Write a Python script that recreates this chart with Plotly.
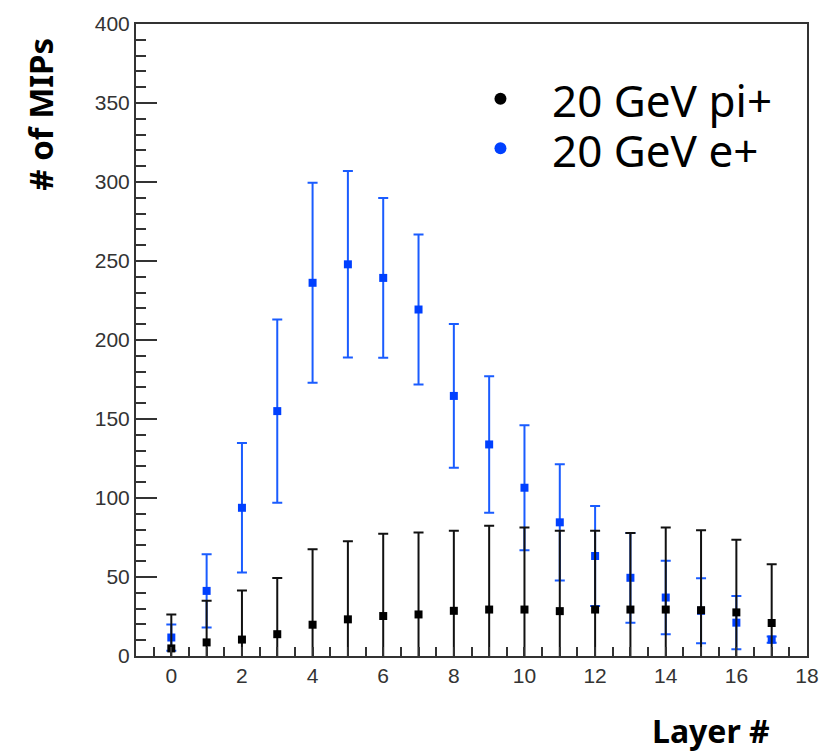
import plotly.graph_objects as go

layers = list(range(18))
pi_vals = [4.8, 8.6, 10.4, 13.8, 19.8, 23.2, 25.3, 26.3, 28.6, 29.4, 29.4, 28.4, 29.4, 29.4, 29.4, 29.0, 27.6, 20.9]
pi_errs = [21.5, 26.4, 31.0, 35.5, 47.7, 49.5, 52.0, 51.8, 50.6, 53.0, 51.9, 50.8, 49.8, 48.5, 51.9, 50.6, 46.0, 37.2]
e_vals = [11.7, 41.2, 93.8, 155.0, 236.2, 247.9, 239.3, 219.3, 164.6, 133.9, 106.5, 84.6, 63.3, 49.5, 37.0, 28.6, 21.1, 10.4]
e_errs = [8.3, 23.2, 41.0, 58.0, 63.3, 59.0, 50.6, 47.5, 45.5, 43.2, 39.5, 36.8, 31.7, 28.4, 23.3, 20.6, 16.9, 2.0]
series_names = ["20 GeV pi+", "20 GeV e+"]
series_colors = ["#000000", "#0040ff"]
err_colors = ["#111111", "#1a5cff"]

fig = go.Figure()
fig.add_trace(go.Scatter(
    x=layers, y=e_vals, mode="markers",
    marker=dict(symbol="square", size=8, color=series_colors[1]),
    error_y=dict(type="data", array=e_errs, visible=True, thickness=2, width=5, color=err_colors[1]),
    showlegend=False))
fig.add_trace(go.Scatter(
    x=layers, y=pi_vals, mode="markers",
    marker=dict(symbol="square", size=8, color=series_colors[0]),
    error_y=dict(type="data", array=pi_errs, visible=True, thickness=2, width=5, color=err_colors[0]),
    showlegend=False))

L, R, T, B = 136, 23, 17.5, 96
W, H = 831, 752
pw, ph = W - L - R, H - T - B

def px(xp):
    return (xp - L) / pw

def py(yp):
    return (H - B - yp) / ph

axis_common = dict(showgrid=False, zeroline=False, showline=True, mirror=True,
                   linecolor="#333333", linewidth=2, tickcolor="#333333", tickwidth=2,
                   tickfont=dict(family="Liberation Sans", size=21, color="#333333"))

fig.update_xaxes(range=[-1, 18], dtick=2, tick0=0, ticks="inside", ticklen=9,
                 minor=dict(dtick=0.5, tick0=0, ticks="inside", ticklen=9, tickcolor="#333333", tickwidth=2),
                 **axis_common)
fig.update_yaxes(range=[0, 400], dtick=50, tick0=0, ticks="inside", ticklen=21,
                 minor=dict(dtick=10, tick0=0, ticks="inside", ticklen=10, tickcolor="#333333", tickwidth=2),
                 **axis_common)

annotations = [
    dict(text="<b># of MIPs</b>", x=px(40), y=py(109), xref="paper", yref="paper",
         textangle=-90, showarrow=False, xanchor="center", yanchor="middle", borderpad=0,
         font=dict(family="Noto Sans", size=33, color="#000000")),
    dict(text="<b>Layer #</b>", x=px(772), y=py(731), xref="paper", yref="paper",
         showarrow=False, xanchor="right", yanchor="middle", borderpad=0,
         font=dict(family="Noto Sans", size=32, color="#000000")),
]
legend_y = [92.5, 142.5]
shapes = []
for name, col, ly in zip(series_names, series_colors, legend_y):
    annotations.append(dict(text=name, x=px(552), y=py(ly + 2), xref="paper", yref="paper",
                            showarrow=False, xanchor="left", yanchor="middle", borderpad=0,
                            font=dict(family="Noto Sans", size=44, color="#000000")))
    shapes.append(dict(type="circle", xref="paper", yref="paper",
                       x0=px(495), x1=px(507), y0=py(ly + 6.5), y1=py(ly - 5.5),
                       fillcolor=col, line=dict(width=0, color=col)))

fig.update_layout(width=W, height=H, margin=dict(l=L, r=R, t=T, b=B),
                  plot_bgcolor="white", paper_bgcolor="white",
                  annotations=annotations, shapes=shapes)

fig.write_html("out.html")
